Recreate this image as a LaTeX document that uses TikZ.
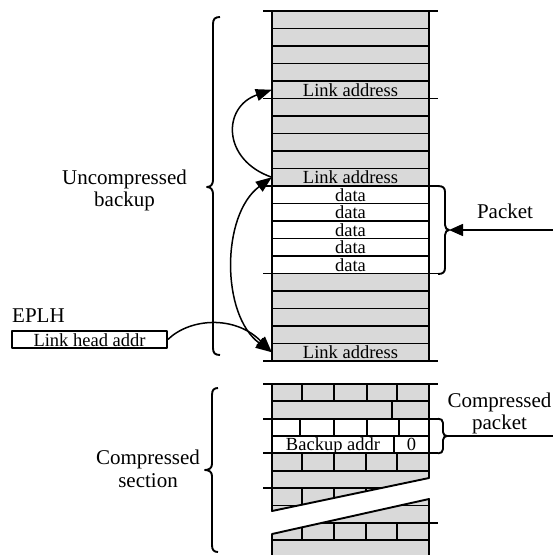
\documentclass[tikz,border=0pt]{standalone}
\usepackage{fontspec}
\setmainfont{Liberation Serif}
\usetikzlibrary{arrows.meta}
\definecolor{cellgray}{RGB}{217,217,217}
\begin{document}
\begin{tikzpicture}[x=1pt,y=-1pt,line join=round,
  ln/.style={line width=1.9pt},
  rowline/.style={line width=1.8pt},
  arr/.style={line width=1.5pt,-{Triangle[length=16pt,width=12pt]}},
  darr/.style={line width=1.5pt,{Triangle[length=16pt,width=12pt]}-{Triangle[length=16pt,width=12pt]}},
  lbl/.style={font=\fontsize{21}{22.5}\selectfont,align=center,inner sep=0pt},
  cell/.style={font=\fontsize{18.5}{20}\selectfont,inner sep=0pt,minimum width=157pt,minimum height=17.5pt,text height=12.5pt,text depth=0pt},
  brick/.style={font=\fontsize{18.5}{20}\selectfont,inner sep=0pt,minimum height=17.35pt,text height=12.5pt,text depth=0pt}]
\useasboundingbox (0,0) rectangle (553,555);

% ---------- upper column ----------
\fill[cellgray] (272,11) rectangle (429,186);
\fill[cellgray] (272,273.5) rectangle (429,361);
\foreach \k in {1,2,3,4,6,7,8,9,11,12,13,14,16,17,18,19}
  \draw[rowline] (272,{11+17.5*\k}) -- (429,{11+17.5*\k});
\foreach \k in {0,5,10,15,20}
  \draw[ln] (263,{11+17.5*\k}) -- (438,{11+17.5*\k});
\draw[ln] (272,11) -- (272,361);
\draw[ln] (429,11) -- (429,361);

\node[cell] (la1) at (350.5,89.75) {Link address};
\node[cell] (la2) at (350.5,177.25) {Link address};
\node[cell] (d1) at (350.5,194.75) {data};
\node[cell] (d2) at (350.5,212.25) {data};
\node[cell] (d3) at (350.5,229.75) {data};
\node[cell] (d4) at (350.5,247.25) {data};
\node[cell] (d5) at (350.5,264.75) {data};
\node[cell] (la3) at (350.5,352.25) {Link address};

% ---------- lower column ----------
\begin{scope}
  \clip (272,384) -- (429,384) -- (429,478) -- (272,511) -- cycle
        (272,534) -- (429,499) -- (429,556) -- (272,556) -- cycle;
  \fill[cellgray] (272,384) rectangle (429,556);
  \fill[white] (272,418.7) rectangle (429,453.4);
  \foreach \k in {1,...,9}
    \draw[rowline] (272,{384+17.35*\k}) -- (429,{384+17.35*\k});
  \foreach \x in {302,334,367,397} \draw[rowline] (\x,384) -- (\x,401.35);
  \draw[rowline] (392,401.35) -- (392,418.7);
  \foreach \x in {300,334,367,399} \draw[rowline] (\x,418.7) -- (\x,436.05);
  \draw[rowline] (394,436.05) -- (394,453.4);
  \foreach \x in {302,334,366,397} \draw[rowline] (\x,453.4) -- (\x,470.75);
  \foreach \x in {302,334,366,397} \draw[rowline] (\x,488.1) -- (\x,505.45);
  \foreach \x in {302,334,366,397} \draw[rowline] (\x,522.8) -- (\x,540.15);
\end{scope}
\draw[ln] (272,384) -- (272,511) -- (429,478) -- (429,384);
\draw[ln] (272,556) -- (272,534) -- (429,499) -- (429,556);
\foreach \y in {384,418.7,453.4} \draw[ln] (263,\y) -- (438,\y);
\draw[ln] (263,488.1) -- (272,488.1);
\draw[ln] (429,522.8) -- (438,522.8);

\node[brick] (bk) at (333,444.7) {Backup addr};
\node[brick] (zero) at (411.5,444.7) {0};

% ---------- braces ----------
\draw[ln] (220,17) .. controls (215,17) and (213,19) .. (213,24) -- (213,180)
  .. controls (213,184) and (211,187) .. (207,187)
  .. controls (211,187) and (213,190) .. (213,194) -- (213,348)
  .. controls (213,353) and (215,355) .. (220,355);
\draw[ln] (218,388) .. controls (214,388) and (212,390) .. (212,395) -- (212,464)
  .. controls (212,468) and (209,470) .. (205,470)
  .. controls (209,470) and (212,472) .. (212,476) -- (212,545)
  .. controls (212,550) and (214,552) .. (218,552);
\draw[ln] (438,186) .. controls (443,186) and (445,188) .. (445,192) -- (445,225)
  .. controls (445,228) and (447,230) .. (449,230)
  .. controls (447,230) and (445,232) .. (445,235) -- (445,268)
  .. controls (445,272) and (443,274) .. (438,274);
\draw[ln] (438,418.7) .. controls (441,418.7) and (443,420) .. (443,423) -- (443,432)
  .. controls (443,434.5) and (445,436) .. (447,436)
  .. controls (445,436) and (443,437.5) .. (443,440) -- (443,449)
  .. controls (443,452) and (441,453.4) .. (438,453.4);

\coordinate (pktip) at (449,230);
\coordinate (pkstart) at (553,230);
\coordinate (cptip) at (447,436);
\coordinate (cpend) at (553,436);
\draw[line width=1.5pt,-{Triangle[length=14pt,width=12pt]}] (pkstart) -- (pktip);
\draw[line width=1.5pt] (cptip) -- (cpend);

% ---------- labels ----------
\node[lbl] (unc) at (124.5,190.4) {Uncompressed\\backup};
\node[lbl] (csec) at (148,469) {Compressed\\section};
\node[lbl] (cpk) at (499.5,413.4) {Compressed\\packet};
\node[lbl,anchor=base] (pk) at (505,218) {Packet};
\node[lbl,anchor=base west] (eplh) at (12,322) {EPLH};
\node[draw,line width=1.7pt,minimum width=155pt,minimum height=17pt,inner sep=0pt,
  font=\fontsize{18.5}{20}\selectfont,text height=13pt,text depth=0pt] (lha) at (89.5,339.5) {Link head addr};

% ---------- link arrows ----------
\draw[arr] (la2.west) .. controls (222,160) and (222,107) .. (la1.west);
\draw[darr] (la2.west) .. controls (221,215) and (221,315) .. (la3.west);
\draw[arr] (lha.east) .. controls (190,318) and (235,315) .. (la3.west);
\end{tikzpicture}
\end{document}
